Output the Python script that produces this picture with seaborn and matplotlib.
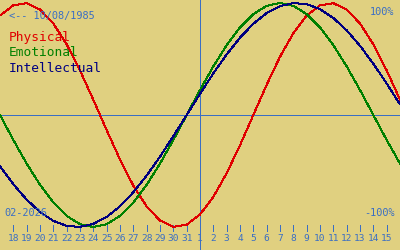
import matplotlib
matplotlib.use("Agg")
import matplotlib.pyplot as plt
import seaborn as sns
import pandas as pd

# Day offsets relative to 1 Feb 2026 (centre line)
offsets = list(range(-15, 16))
day_labels = [17, 18, 19, 20, 21, 22, 23, 24, 25, 26, 27, 28, 29, 30, 31,
              1, 2, 3, 4, 5, 6, 7, 8, 9, 10, 11, 12, 13, 14, 15, 16]

physical = [0.888, 0.979, 0.998, 0.942, 0.817, 0.631, 0.398, 0.136, -0.136,
            -0.398, -0.631, -0.817, -0.942, -0.998, -0.979, -0.888, -0.731,
            -0.520, -0.270, 0.000, 0.270, 0.520, 0.731, 0.888, 0.979, 0.998,
            0.942, 0.817, 0.631, 0.398, 0.136]
emotional = [0.000, -0.223, -0.434, -0.623, -0.782, -0.901, -0.975, -1.000,
             -0.975, -0.901, -0.782, -0.623, -0.434, -0.223, 0.000, 0.223,
             0.434, 0.623, 0.782, 0.901, 0.975, 1.000, 0.975, 0.901, 0.782,
             0.623, 0.434, 0.223, 0.000, -0.223, -0.434]
intellectual = [-0.458, -0.618, -0.756, -0.866, -0.945, -0.990, -0.999, -0.972,
                -0.910, -0.815, -0.690, -0.541, -0.372, -0.189, 0.000, 0.189,
                0.372, 0.541, 0.690, 0.815, 0.910, 0.972, 0.999, 0.990, 0.945,
                0.866, 0.756, 0.618, 0.458, 0.282, 0.095]

series_names = ["Physical", "Emotional", "Intellectual"]
series_colors = ["#e00000", "#008000", "#000080"]

BG = "#e0d080"
TXT = "#3a6ec4"

sns.set_theme(style="white")
plt.rcParams["font.family"] = ["DejaVu Sans Mono", "DejaVu Sans"]

fig = plt.figure(figsize=(4, 2.5), dpi=100, facecolor=BG)
ax = fig.add_axes([0, 0, 1, 1])
ax.set_facecolor(BG)

def yv(py):
    return (115 - py) / 112.0

ax.set_xlim(-15, 15)
ax.set_ylim(yv(250), yv(0))

LW = 0.72

# reference lines
ax.axhline(0, color=TXT, lw=LW, antialiased=False, zorder=1)
ax.axvline(0, color=TXT, lw=LW, antialiased=False, zorder=1)

df = pd.DataFrame({"offset": offsets, "Physical": physical,
                   "Emotional": emotional, "Intellectual": intellectual})
for name, col in zip(series_names, series_colors):
    sns.lineplot(data=df, x="offset", y=name, color=col, lw=LW, ax=ax,
                 antialiased=False, zorder=3)

# day ticks and labels
for off, lab in zip(offsets, day_labels):
    if off in (-15, 15):
        continue
    ax.plot([off, off], [yv(225), yv(231)], color=TXT, lw=LW,
            antialiased=False, zorder=2)
    ax.text(off, yv(238.5), str(lab), color=TXT, fontsize=6.8,
            ha="center", va="center")

for s in ax.spines.values():
    s.set_visible(False)
ax.set_xticks([])
ax.set_yticks([])
ax.set_xlabel("")
ax.set_ylabel("")

def ft(px, py, s, color, size, ha="left"):
    fig.text(px / 400.0, 1 - py / 250.0, s, color=color, fontsize=size,
             ha=ha, va="center")

ft(9, 16, "<-- 10/08/1985", TXT, 7.4)
ft(9, 38, "Physical", series_colors[0], 9.3)
ft(9, 53, "Emotional", series_colors[1], 9.3)
ft(9, 68, "Intellectual", series_colors[2], 9.3)
ft(394, 12, "100%", TXT, 7.4, ha="right")
ft(395, 213, "-100%", TXT, 7.4, ha="right")
ft(4, 213, "02-2026", TXT, 7.4)

fig.savefig("out.png", dpi=100, facecolor=BG)
